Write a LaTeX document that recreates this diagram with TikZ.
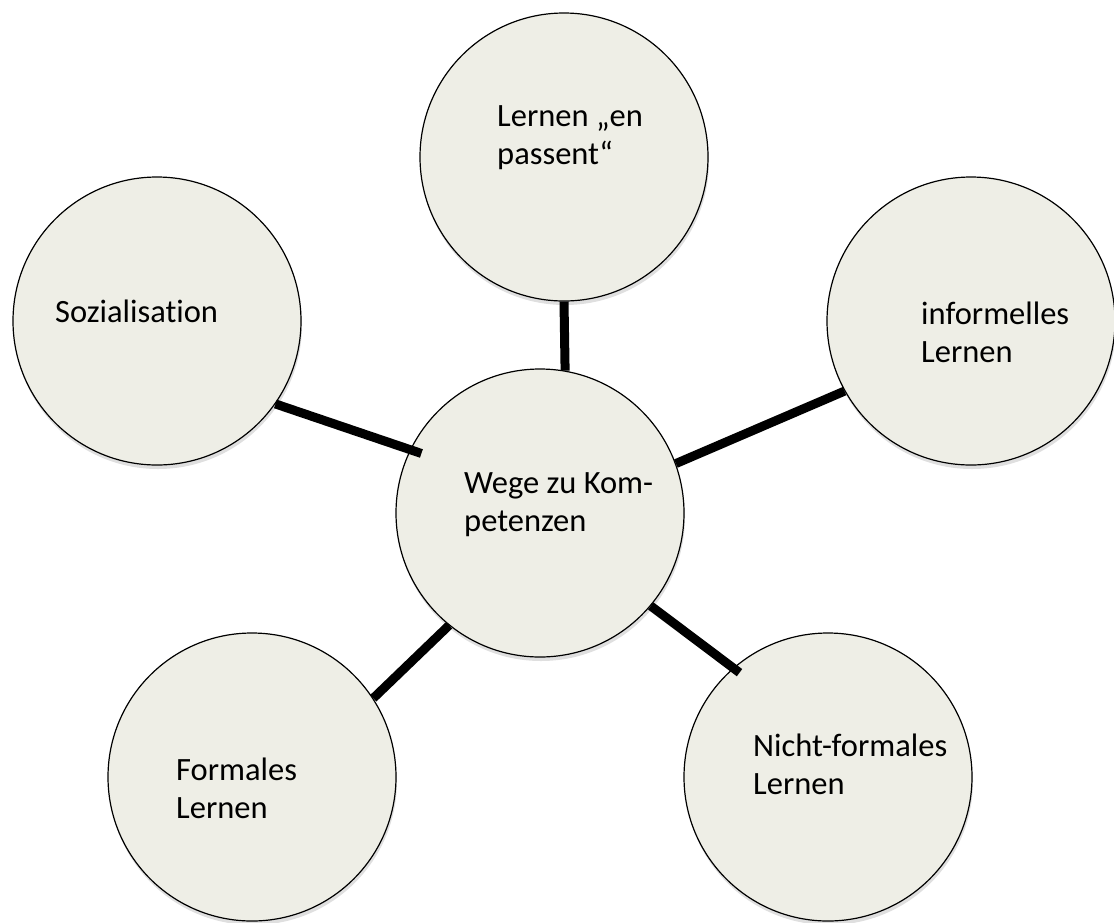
\documentclass[tikz,border=0pt]{standalone}
\usepackage{fontspec}
\setmainfont{Carlito}[Ligatures=NoCommon]
\usepackage{xcolor}
\usepackage{tikz}
\usetikzlibrary{positioning, shadows}
\definecolor{kreisfill}{RGB}{238,238,230}

\begin{document}
\begin{tikzpicture}[x=1pt, y=-1pt,
  kreis/.style={circle, draw=black, line width=1.2pt, fill=kreisfill,
    minimum size=288pt, inner sep=0pt,
    drop shadow={shadow xshift=1pt, shadow yshift=-4pt, opacity=0.25}},
  txt/.style={font=\fontsize{32.5}{38}\selectfont, align=left, anchor=base west, inner sep=0pt},
  verb/.style={line width=9pt}]
  \useasboundingbox (0,0) rectangle (1114,922);
  % Kreise
  \node[kreis] (lep) at (564,157) {};
  \node[kreis] (soz) at (157,321) {};
  \node[kreis] (inf) at (971,321) {};
  \node[kreis] (wege) at (540,513) {};
  \node[kreis] (form) at (252,777) {};
  \node[kreis] (nicht) at (828,777) {};
  % Texte (base = letzte Zeile)
  \node[txt] (leptxt) at (497,164) {Lernen „en\\passent“};
  \node[txt] (soztxt) at (55,322) {Sozialisation};
  \node[txt] (inftxt) at (921,362) {informelles\\Lernen};
  \node[txt] (wegetxt) at (464,531) {Wege zu Kom-\\petenzen};
  \node[txt] (formtxt) at (176,818) {Formales\\Lernen};
  \node[txt] (nichttxt) at (753,794) {Nicht-formales\\Lernen};
  % Verbindungen
  \draw[verb] (lep.-90) -- (wege.80);
  \draw[verb, shorten >=-12pt] (soz.-35.7) -- (wege.154.5);
  \draw[verb] (wege.20) -- (inf.-151);
  \draw[verb] (form.33.6) -- (wege.-129);
  \draw[verb, shorten >=-8pt] (wege.-40.7) -- (nicht.131.4);
\end{tikzpicture}
\end{document}
